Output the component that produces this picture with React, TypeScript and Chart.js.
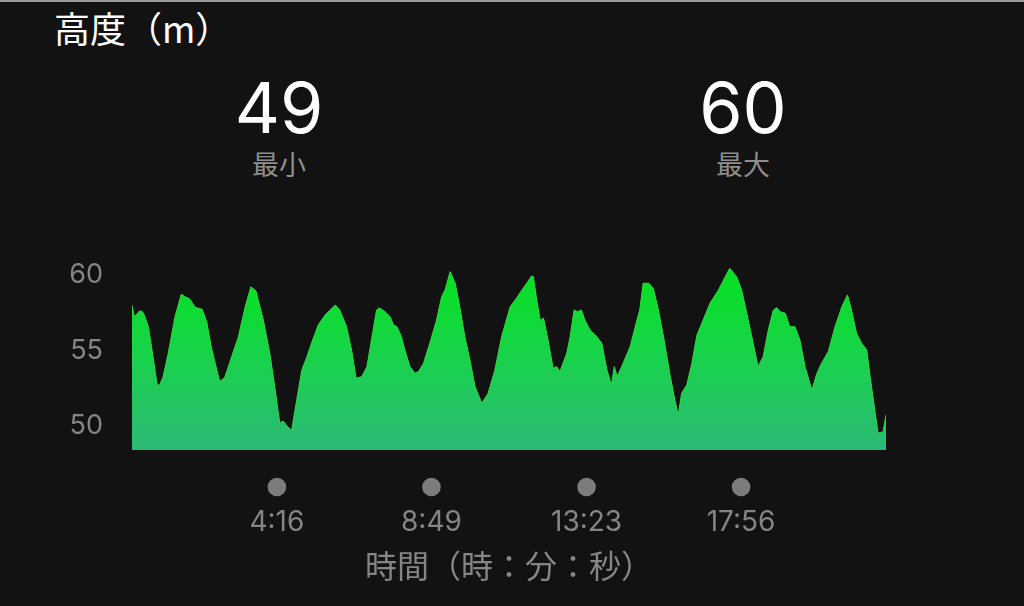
import React, { useEffect, useRef } from "react";
import { Chart, registerables } from "chart.js";

Chart.register(...registerables);

// elapsed time in seconds
const timeSeconds = [
  0, 4, 14, 20, 29, 38, 44, 48, 55, 64, 76, 87, 94, 102, 111, 117, 124, 132, 140, 147,
  155, 164, 176, 188, 200, 210, 219, 232, 244, 253, 261, 267, 274, 282, 291, 300, 309, 317, 329, 341,
  359, 367, 379, 388, 396, 406, 415, 423, 432, 437, 447, 456, 462, 468, 476, 482, 491, 500, 506, 515,
  526, 538, 547, 553, 562, 571, 579, 588, 597, 606, 618, 629, 641, 653, 668, 677, 691, 706, 709, 715,
  721, 727, 735, 744, 750, 756, 768, 774, 781, 787, 794, 800, 809, 821, 830, 839, 847, 852, 857, 865,
  880, 892, 897, 903, 913, 921, 930, 939, 950, 959, 965, 971, 980, 989, 998, 1009, 1021, 1036, 1048, 1056,
  1068, 1077, 1086, 1095, 1106, 1115, 1124, 1133, 1139, 1145, 1154, 1162, 1171, 1180, 1189, 1201, 1210, 1218, 1230, 1242,
  1254, 1264, 1271, 1280, 1289, 1298, 1304, 1313, 1318, 1327, 1332,
];

// altitude in metres
const altitude = [
  57.88, 57.11, 57.51, 57.38, 56.45, 54.25, 52.71, 52.53, 53.15, 54.69, 57.11, 58.59, 58.43, 58.28, 57.77, 57.67, 57.6, 56.78, 55.13, 54.03,
  52.82, 53.11, 54.47, 55.79, 57.77, 59.09, 58.81, 56.89, 54.58, 52.27, 50.07, 50.22, 49.89, 49.59, 51.61, 53.59, 54.47, 55.35, 56.56, 57.22,
  57.88, 57.55, 56.45, 54.91, 53.04, 53.15, 53.81, 55.57, 57.55, 57.69, 57.44, 57.11, 56.56, 56.45, 55.79, 54.91, 53.81, 53.37, 53.48, 54.03,
  55.35, 56.89, 58.43, 58.88, 60.09, 59.32, 57.77, 55.79, 54.25, 52.49, 51.39, 52.05, 53.59, 55.79, 57.77, 58.22, 58.99, 59.8, 59.76, 58.22,
  56.89, 57.01, 55.57, 53.7, 53.81, 53.48, 54.69, 55.79, 57.55, 57.44, 57.55, 56.89, 56.23, 55.79, 55.35, 53.59, 52.6, 53.81, 53.15, 53.81,
  55.13, 56.89, 57.55, 59.32, 59.32, 58.99, 57.55, 55.79, 53.37, 51.61, 50.62, 52.05, 52.6, 54.03, 55.9, 56.89, 58.0, 58.88, 59.76, 60.31,
  59.76, 58.88, 57.34, 55.79, 53.81, 54.47, 56.23, 57.55, 57.71, 57.44, 57.34, 56.45, 56.45, 55.57, 53.81, 52.27, 53.37, 54.03, 54.8, 56.45,
  57.77, 58.55, 57.55, 56.01, 55.35, 54.91, 53.15, 50.73, 49.41, 49.51, 50.62,
];

const xTickSeconds = [256, 529, 803, 1076];
const xTickLabels = ["4:16", "8:49", "13:23", "17:56"];
const yTickValues = [50, 55, 60];

const chartTitle = "高度（m）";
const minValueLabel = "49";
const minCaption = "最小";
const maxValueLabel = "60";
const maxCaption = "最大";
const xAxisTitle = "時間（時：分：秒）";

const NUM_FONT = "Inter, 'Noto Sans CJK JP', sans-serif";
const JP_FONT = "'Noto Sans CJK JP', sans-serif";
const GREY = "#858585";

const CANVAS_TOP = 200;
const CANVAS_H = 406;

const dotPlugin = {
  id: "tickDots",
  afterDraw(chart: any) {
    const x = chart.scales.x;
    const ctx = chart.ctx;
    ctx.save();
    ctx.fillStyle = "#7c7c7c";
    xTickSeconds.forEach((s) => {
      const px = x.getPixelForValue(s);
      ctx.beginPath();
      ctx.arc(px, x.top + 37, 9.3, 0, Math.PI * 2);
      ctx.fill();
    });
    ctx.restore();
  },
};

export default function App() {
  const canvasRef = useRef<HTMLCanvasElement | null>(null);

  useEffect(() => {
    const canvas = canvasRef.current;
    if (!canvas) return;
    const chart = new Chart(canvas, {
      type: "line",
      data: {
        datasets: [
          {
            data: timeSeconds.map((t, i) => ({ x: t, y: altitude[i] })),
            fill: "start",
            borderColor: "#2fdc3c",
            borderWidth: 1,
            pointRadius: 0,
            tension: 0,
            backgroundColor: (ctx: any) => {
              const area = ctx.chart.chartArea;
              if (!area) return "#1fd24a";
              const g = ctx.chart.ctx.createLinearGradient(0, area.top, 0, area.bottom);
              g.addColorStop(0, "#00e414");
              g.addColorStop(0.5, "#17d448");
              g.addColorStop(1, "#2cb977");
              return g;
            },
          },
        ],
      },
      options: {
        animation: false,
        responsive: false,
        maintainAspectRatio: false,
        layout: { padding: { top: 50, right: 138, bottom: 0, left: 0 } },
        plugins: { legend: { display: false }, tooltip: { enabled: false } },
        scales: {
          x: {
            type: "linear",
            min: 0,
            max: 1332,
            grid: { display: false, drawTicks: false },
            border: { display: false },
            afterBuildTicks: (s: any) => {
              s.ticks = xTickSeconds.map((v) => ({ value: v }));
            },
            afterFit: (s: any) => {
              s.height = 156;
            },
            ticks: {
              autoSkip: false,
              maxRotation: 0,
              padding: 56,
              color: GREY,
              font: { family: NUM_FONT, size: 28 },
              callback: (_v: any, i: number) => xTickLabels[i],
            },
            title: {
              display: true,
              text: xAxisTitle,
              color: GREY,
              font: { family: JP_FONT, size: 32 },
              padding: { top: 0, bottom: 21 },
            },
          },
          y: {
            min: 48.3,
            max: 61.52,
            grid: { display: false, drawTicks: false },
            border: { display: false },
            afterBuildTicks: (s: any) => {
              s.ticks = yTickValues.map((v) => ({ value: v }));
            },
            afterFit: (s: any) => {
              s.width = 132;
            },
            ticks: {
              padding: 29,
              labelOffset: 2,
              color: GREY,
              font: { family: NUM_FONT, size: 27 },
            },
          },
        },
      },
      plugins: [dotPlugin],
    } as any);
    return () => chart.destroy();
  }, []);

  const centered = (cx: number, top: number, size: number, color: string, font: string, text: string) => (
    <div
      style={{
        position: "absolute",
        left: cx - 150,
        width: 300,
        top,
        textAlign: "center",
        fontSize: size,
        lineHeight: `${size}px`,
        color,
        fontFamily: font,
        whiteSpace: "nowrap",
      }}
    >
      {text}
    </div>
  );

  return (
    <div
      style={{
        position: "fixed",
        left: 0,
        top: 0,
        width: 1024,
        height: 606,
        background: "#121212",
        overflow: "hidden",
      }}
    >
      <div style={{ position: "absolute", left: 0, top: 0, width: 1024, height: 2, background: "#9a9a9a" }} />
      <div
        style={{
          position: "absolute",
          left: 54,
          top: 9,
          fontSize: 36,
          lineHeight: "36px",
          color: "#ffffff",
          fontFamily: JP_FONT,
          whiteSpace: "nowrap",
        }}
      >
        {chartTitle}
      </div>
      {centered(279, 73, 70, "#ffffff", NUM_FONT, minValueLabel)}
      {centered(279, 150, 27, "#8e8e8e", JP_FONT, minCaption)}
      {centered(743, 73, 70, "#ffffff", NUM_FONT, maxValueLabel)}
      {centered(743, 150, 27, "#8e8e8e", JP_FONT, maxCaption)}
      <canvas
        ref={canvasRef}
        width={1024}
        height={CANVAS_H}
        style={{ position: "absolute", left: 0, top: CANVAS_TOP, width: 1024, height: CANVAS_H }}
      />
    </div>
  );
}
